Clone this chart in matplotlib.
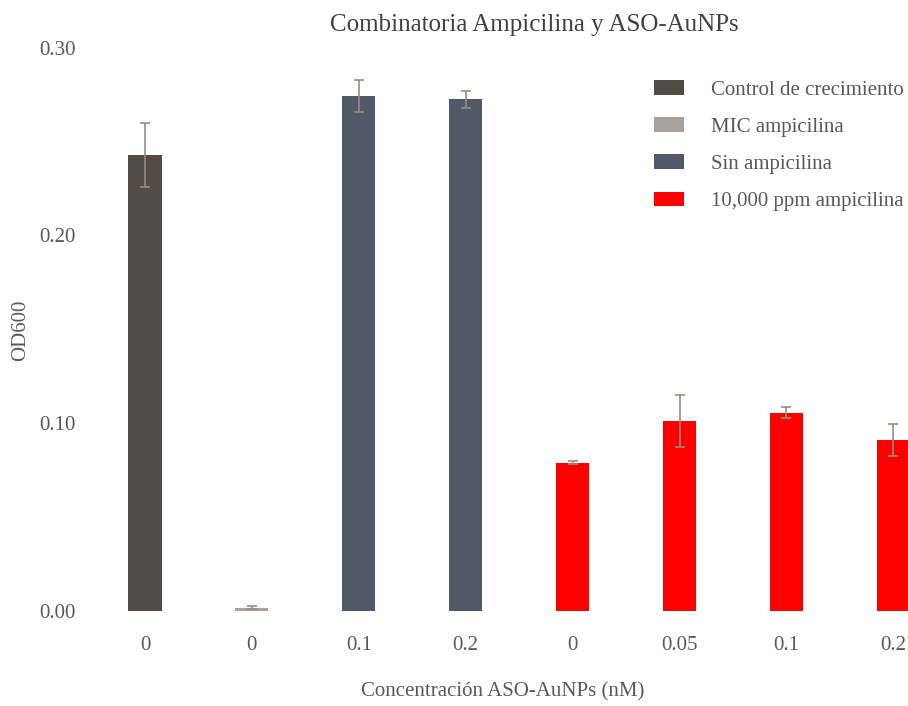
import matplotlib
matplotlib.use("Agg")
import matplotlib.pyplot as plt
from matplotlib.patches import Patch
import numpy as np

# Data
tick_labels = ["0", "0", "0.1", "0.2", "0", "0.05", "0.1", "0.2"]
od600 = [0.243, 0.0015, 0.2745, 0.2727, 0.0789, 0.1011, 0.1055, 0.0909]
od600_err = [0.017, 0.0008, 0.0085, 0.0045, 0.0006, 0.014, 0.003, 0.0086]
groups = ["Control de crecimiento", "MIC ampicilina", "Sin ampicilina", "10,000 ppm ampicilina"]
group_of_bar = [0, 1, 2, 2, 3, 3, 3, 3]
group_colors = ["#524a45", "#a8a39f", "#515868", "#ff0000"]

text_color = "#595959"
plt.rcParams["font.family"] = ["Liberation Serif", "DejaVu Serif"]

W, H = 908, 706
fig = plt.figure(figsize=(W / 100, H / 100), dpi=100)
ax_left, ax_right = 92, 908
ax_top, ax_bottom = 48, 610.5
ax = fig.add_axes([ax_left / W, 1 - ax_bottom / H,
                   (ax_right - ax_left) / W, (ax_bottom - ax_top) / H])

x = np.arange(len(od600))
colors = [group_colors[g] for g in group_of_bar]
ax.bar(x, od600, width=0.31, color=colors, zorder=2)
ax.errorbar(x, od600, yerr=od600_err, fmt="none", ecolor="#968b83",
            elinewidth=1.2, capsize=3.5, capthick=1.2, zorder=3)

ax.set_xlim(-0.496, 7.137)
ax.set_ylim(0, 0.30)
ax.set_yticks([0.0, 0.1, 0.2, 0.3])
ax.set_yticklabels(["0.00", "0.10", "0.20", "0.30"])
ax.set_xticks(x)
ax.set_xticklabels(tick_labels)
for s in ax.spines.values():
    s.set_visible(False)
ax.tick_params(axis="both", length=0, labelsize=15, colors=text_color)
ax.tick_params(axis="x", pad=18)
ax.tick_params(axis="y", pad=12)

fig.text(21 / W, 1 - 330 / H, "OD600", rotation=90, ha="center", va="center",
         fontsize=15, color=text_color)
fig.text(503 / W, 1 - 692 / H, "Concentración ASO-AuNPs (nM)", ha="center",
         va="center", fontsize=15, color=text_color)
fig.text(0.5 * (330 + 738) / W, 1 - 25 / H, "Combinatoria Ampicilina y ASO-AuNPs",
         ha="center", va="center", fontsize=18, color="#404040")

handles = [Patch(facecolor=c, edgecolor="none") for c in group_colors]
leg = fig.legend(handles, groups, loc="upper left",
                 bbox_to_anchor=(654 / W, 1 - 80 / H),
                 frameon=False, fontsize=15, borderpad=0, borderaxespad=0,
                 handlelength=1.45, handleheight=0.72, handletextpad=1.3,
                 labelspacing=0.84)
for t in leg.get_texts():
    t.set_color(text_color)

fig.savefig("out.png", dpi=100)
